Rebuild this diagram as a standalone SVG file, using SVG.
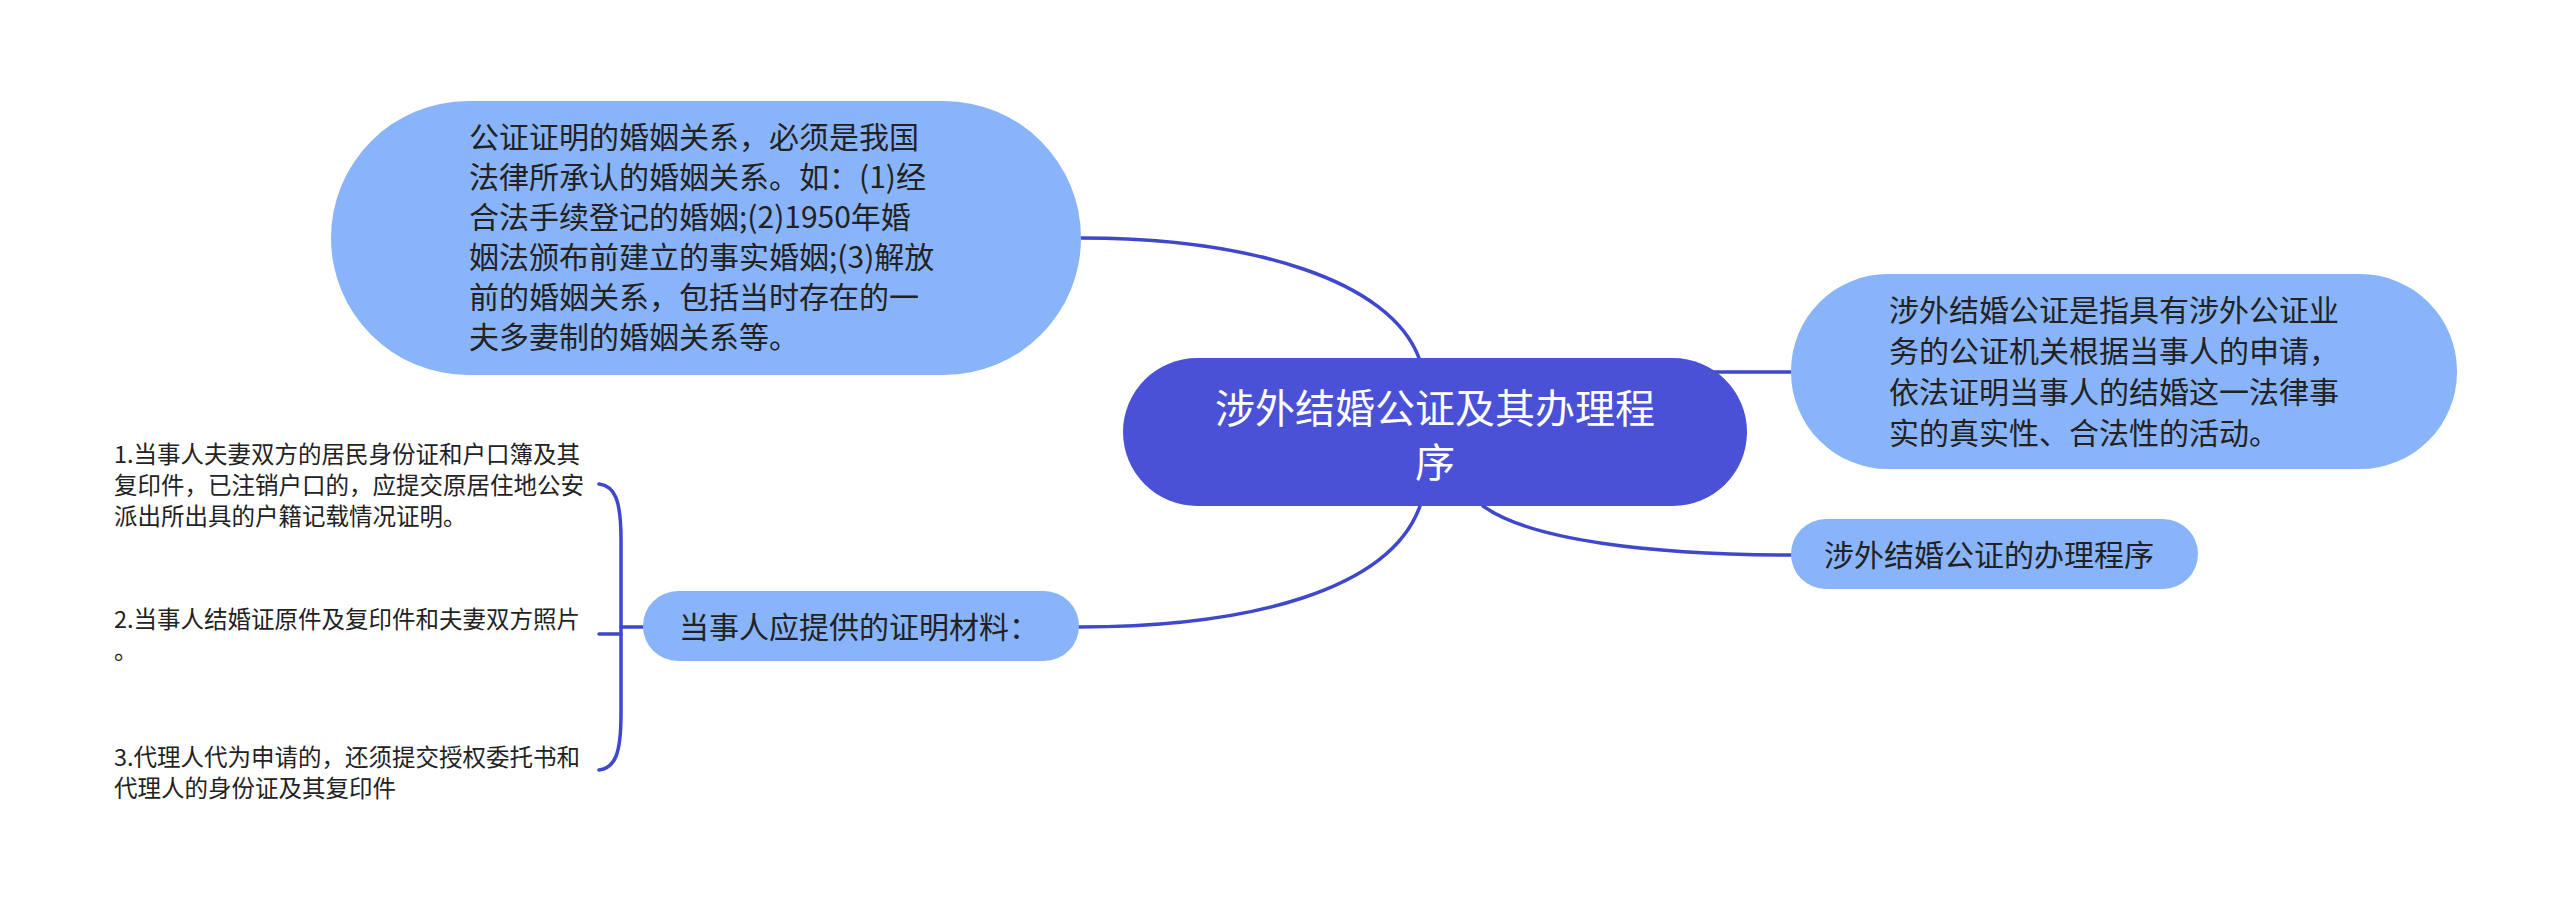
<svg xmlns="http://www.w3.org/2000/svg" width="2560" height="914" viewBox="0 0 2560 914">
<style>
.bg{fill:#ffffff}
.sub{fill:#89B4FA}
.root{fill:#4A51D7}
.t{font-family:"Noto Sans CJK SC","Liberation Sans",sans-serif;fill:#222222}
.tm{font-size:30px}
.tl{font-size:23.5px}
.tr{font-family:"Noto Sans CJK SC","Liberation Sans",sans-serif;font-size:40px;fill:#ffffff;text-anchor:middle}
.c{fill:none;stroke:#3F47CC;stroke-width:3.5;stroke-linecap:round}
</style>
<rect class="bg" x="0" y="0" width="2560" height="914"/>
<g id="connectors">
<path class="c" d="M1081,238 C1250,238 1390,280 1419,358"/>
<path class="c" d="M1700,372 L1792,372"/>
<path class="c" d="M1483,506 C1530,540 1650,555 1792,555"/>
<path class="c" d="M1420,506 C1390,590 1250,627 1079,627"/>
<path class="c" d="M643,627 L621,627"/>
<path class="c" d="M599,484 C615,486 621,500 621,540 L621,714 C621,754 615,768 599,770"/>
<path class="c" d="M599,634 L621,634"/>
</g>
<g id="node-root">
<rect class="root" x="1123" y="358" width="624" height="148" rx="74"/>
<text class="tr" x="1435" y="423">涉外结婚公证及其办理程</text>
<text class="tr" x="1435" y="477">序</text>
</g>
<g id="node-def-law">
<rect class="sub" x="331" y="101" width="750" height="274" rx="137"/>
<text class="t tm" x="469" y="148">公证证明的婚姻关系，必须是我国</text>
<text class="t tm" x="469" y="188">法律所承认的婚姻关系。如：(1)经</text>
<text class="t tm" x="469" y="228">合法手续登记的婚姻;(2)1950年婚</text>
<text class="t tm" x="469" y="268">姻法颁布前建立的事实婚姻;(3)解放</text>
<text class="t tm" x="469" y="308">前的婚姻关系，包括当时存在的一</text>
<text class="t tm" x="469" y="348">夫多妻制的婚姻关系等。</text>
</g>
<g id="node-definition">
<rect class="sub" x="1791" y="274" width="666" height="195" rx="97"/>
<text class="t tm" x="1889" y="321">涉外结婚公证是指具有涉外公证业</text>
<text class="t tm" x="1889" y="362">务的公证机关根据当事人的申请，</text>
<text class="t tm" x="1889" y="403">依法证明当事人的结婚这一法律事</text>
<text class="t tm" x="1889" y="444">实的真实性、合法性的活动。</text>
</g>
<g id="node-procedure">
<rect class="sub" x="1791" y="519" width="407" height="70" rx="35"/>
<text class="t tm" x="1824" y="566">涉外结婚公证的办理程序</text>
</g>
<g id="node-materials">
<rect class="sub" x="643" y="591" width="436" height="70" rx="35"/>
<text class="t tm" x="679" y="638">当事人应提供的证明材料：</text>
</g>
<g id="leaf-1">
<text class="t tl" x="114" y="463">1.当事人夫妻双方的居民身份证和户口簿及其</text>
<text class="t tl" x="114" y="494">复印件，已注销户口的，应提交原居住地公安</text>
<text class="t tl" x="114" y="525">派出所出具的户籍记载情况证明。</text>
</g>
<g id="leaf-2">
<text class="t tl" x="114" y="628">2.当事人结婚证原件及复印件和夫妻双方照片</text>
<text class="t tl" x="114" y="659">。</text>
</g>
<g id="leaf-3">
<text class="t tl" x="114" y="766">3.代理人代为申请的，还须提交授权委托书和</text>
<text class="t tl" x="114" y="797">代理人的身份证及其复印件</text>
</g>
</svg>
